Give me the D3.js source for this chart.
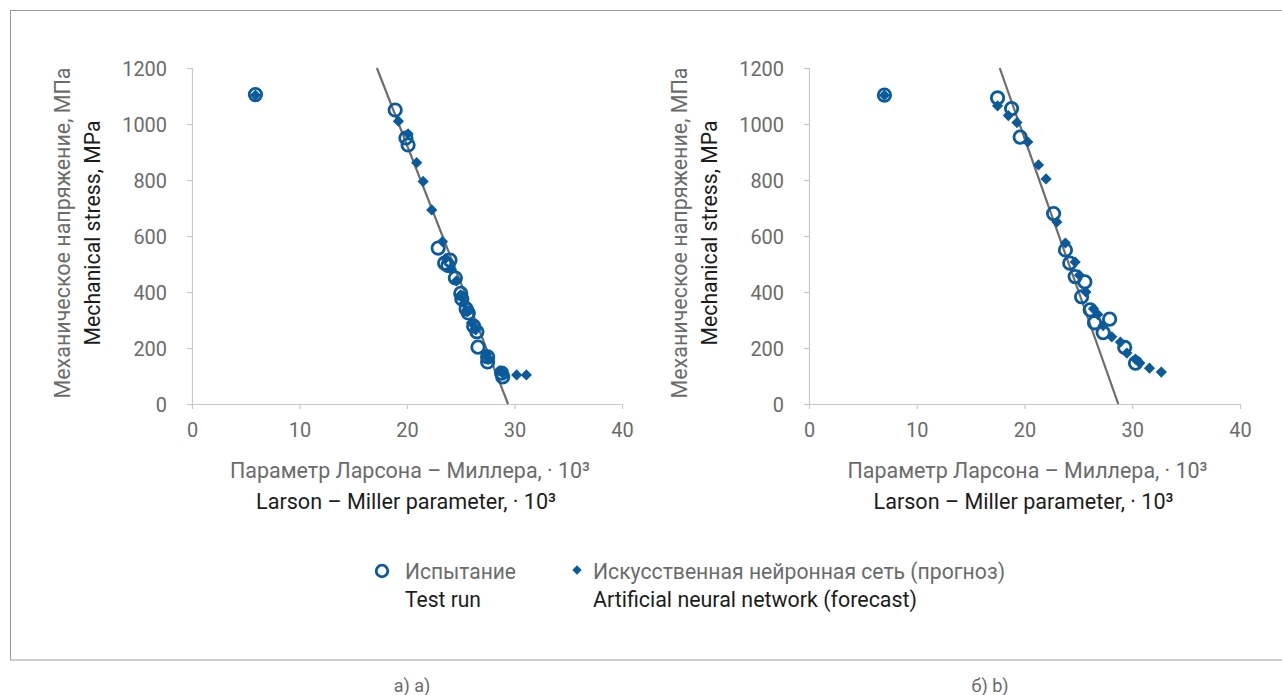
<!DOCTYPE html>
<html>
<head>
<meta charset="utf-8">
<script src="https://cdn.jsdelivr.net/npm/d3@7"></script>
<style>
  html, body { margin: 0; padding: 0; background: #ffffff; }
  svg { display: block; font-family: Roboto, "Noto Sans", sans-serif; }
</style>
</head>
<body>
<svg id="chart" width="1282" height="695"></svg>
<script>
// Axis ticks
const xTicks = [0, 10, 20, 30, 40];
const yTicks = [0, 200, 400, 600, 800, 1000, 1200];

// Panel a) — test results and ANN forecast
const aTestX = [5.9, 18.9, 19.9, 20.1, 22.9, 23.5, 24.0, 23.8, 24.5, 25.0, 25.1, 25.5, 25.7, 26.2, 26.5, 26.6, 27.5, 27.5, 28.8, 28.9];
const aTestY = [1105, 1050, 950, 925, 557, 503, 514, 495, 450, 395, 375, 340, 325, 278, 258, 203, 168, 150, 110, 97];
const aAnnX = [5.9, 19.2, 20.1, 20.9, 21.5, 22.3, 23.3, 23.6, 24.1, 24.6, 25.0, 25.3, 25.6, 26.0, 26.4, 27.4, 27.6, 28.6, 28.9, 30.2, 31.1];
const aAnnY = [1103, 1010, 965, 862, 795, 693, 580, 520, 480, 440, 390, 360, 330, 290, 265, 178, 160, 118, 110, 104, 104];
const aTrendX = [17.2, 29.4];
const aTrendY = [1200, 0];

// Panel b) — test results and ANN forecast
const bTestX = [7.0, 17.5, 18.8, 19.6, 22.7, 23.8, 24.2, 24.7, 25.6, 25.3, 26.1, 26.5, 27.9, 27.3, 29.3, 30.3];
const bTestY = [1103, 1093, 1055, 953, 680, 550, 503, 455, 436, 383, 336, 290, 303, 255, 202, 146];
const bAnnX = [7.0, 17.5, 18.5, 19.3, 20.3, 21.3, 22.0, 23.0, 23.8, 24.7, 25.1, 25.7, 26.4, 26.8, 27.3, 28.1, 28.9, 29.5, 30.3, 30.7, 31.6, 32.7];
const bAnnY = [1103, 1065, 1030, 1005, 936, 854, 804, 650, 575, 507, 460, 400, 340, 320, 280, 240, 221, 182, 160, 146, 128, 114];
const bTrendX = [17.7, 28.7];
const bTrendY = [1200, 0];

// Texts
const yTitleRu = "Механическое напряжение, МПа";
const yTitleEn = "Mechanical stress, MPa";
const xTitleRu = "Параметр Ларсона – Миллера, · 10³";
const xTitleEn = "Larson – Miller parameter, · 10³";
const legendTestRu = "Испытание";
const legendTestEn = "Test run";
const legendAnnRu = "Искусственная нейронная сеть (прогноз)";
const legendAnnEn = "Artificial neural network (forecast)";
const captions = ["а) a)", "б) b)"];

const BLUE = "#0a5a9c";
const GREY_TEXT = "#6b6b6b";
const DARK_TEXT = "#1c1c1c";
const AXIS = "#c9c9c9";
const TREND = "#6e6e6e";

const svg = d3.select("#chart");

// outer frame
svg.append("rect")
  .attr("x", 10.5).attr("y", 10.5)
  .attr("width", 1290).attr("height", 649.5)
  .attr("fill", "none").attr("stroke", "#9a9a9a").attr("stroke-width", 1);

function fitText(sel, len) {
  sel.attr("textLength", len).attr("lengthAdjust", "spacingAndGlyphs");
}

function drawPanel(opt) {
  const x = d3.scaleLinear().domain([0, 40]).range([opt.x0, opt.x1]);
  const y = d3.scaleLinear().domain([0, 1200]).range([404, 68]);
  const g = svg.append("g");

  // y axis
  const yAxis = g.append("g").attr("transform", `translate(${opt.x0},0)`)
    .call(d3.axisLeft(y).tickValues(yTicks).tickSize(5).tickPadding(20).tickFormat(d3.format("d")));
  yAxis.select(".domain").attr("stroke", AXIS).attr("stroke-width", 1.2);
  yAxis.selectAll(".tick line").attr("stroke", AXIS).attr("stroke-width", 1.2);
  yAxis.selectAll(".tick text").attr("fill", GREY_TEXT).attr("font-size", 21)
    .attr("font-family", "Roboto").attr("dy", "0.36em")
    .each(function () {
      const n = this.textContent.length;
      d3.select(this).attr("textLength", n * 11.2).attr("lengthAdjust", "spacingAndGlyphs");
    });

  // x axis
  const xAxis = g.append("g").attr("transform", `translate(0,404)`)
    .call(d3.axisBottom(x).tickValues(xTicks).tickSize(5).tickSizeOuter(0).tickPadding(13).tickFormat(d3.format("d")));
  xAxis.select(".domain").attr("stroke", AXIS).attr("stroke-width", 1.2);
  xAxis.selectAll(".tick line").attr("stroke", AXIS).attr("stroke-width", 1.2);
  xAxis.selectAll(".tick text").attr("fill", GREY_TEXT).attr("font-size", 21)
    .attr("font-family", "Roboto")
    .each(function () {
      const n = this.textContent.length;
      d3.select(this).attr("textLength", n * 11.2).attr("lengthAdjust", "spacingAndGlyphs");
    });

  // trend line
  const line = d3.line().x((d, i) => x(opt.trendX[i])).y((d, i) => y(opt.trendY[i]));
  g.append("path").datum(opt.trendX)
    .attr("d", line).attr("fill", "none")
    .attr("stroke", TREND).attr("stroke-width", 2.2);

  // ANN forecast (diamonds)
  const diamond = d3.symbol().type(d3.symbolDiamond2).size(80);
  g.append("g").selectAll("path")
    .data(opt.annX.map((v, i) => [v, opt.annY[i]]))
    .join("path")
    .attr("d", diamond)
    .attr("transform", d => `translate(${x(d[0])},${y(d[1])})`)
    .attr("fill", BLUE);

  // test results (open circles)
  g.append("g").selectAll("circle")
    .data(opt.testX.map((v, i) => [v, opt.testY[i]]))
    .join("circle")
    .attr("cx", d => x(d[0])).attr("cy", d => y(d[1]))
    .attr("r", 6.2)
    .attr("fill", "none").attr("stroke", BLUE).attr("stroke-width", 2.8);

  // y titles
  const ycx = opt.x0 - 130;
  g.append("text").text(yTitleRu)
    .attr("transform", `translate(${ycx},${233}) rotate(-90)`)
    .attr("text-anchor", "middle").attr("dy", "0.35em")
    .attr("fill", GREY_TEXT).attr("font-size", 22)
    .call(fitText, 331);
  g.append("text").text(yTitleEn)
    .attr("transform", `translate(${ycx + 30},${233}) rotate(-90)`)
    .attr("text-anchor", "middle").attr("dy", "0.35em")
    .attr("fill", DARK_TEXT).attr("font-size", 22)
    .call(fitText, 225);

  // x titles
  const xcx = (opt.x0 + opt.x1) / 2;
  g.append("text").text(xTitleRu)
    .attr("x", xcx + 3).attr("y", 478)
    .attr("text-anchor", "middle")
    .attr("fill", GREY_TEXT).attr("font-size", 22)
    .call(fitText, 360);
  g.append("text").text(xTitleEn)
    .attr("x", xcx - 1).attr("y", 509)
    .attr("text-anchor", "middle")
    .attr("fill", DARK_TEXT).attr("font-size", 22)
    .call(fitText, 300);

  // caption
  svg.append("text").text(opt.caption)
    .attr("x", opt.capX).attr("y", 692)
    .attr("text-anchor", "middle")
    .attr("fill", GREY_TEXT).attr("font-size", 18);
}

drawPanel({ x0: 192, x1: 622, testX: aTestX, testY: aTestY, annX: aAnnX, annY: aAnnY,
  trendX: aTrendX, trendY: aTrendY, caption: captions[0], capX: 412 });
drawPanel({ x0: 809, x1: 1240, testX: bTestX, testY: bTestY, annX: bAnnX, annY: bAnnY,
  trendX: bTrendX, trendY: bTrendY, caption: captions[1], capX: 990 });

// legend
const lg = svg.append("g");
lg.append("circle").attr("cx", 382).attr("cy", 571).attr("r", 5.8)
  .attr("fill", "none").attr("stroke", BLUE).attr("stroke-width", 2.8);
lg.append("text").text(legendTestRu).attr("x", 405).attr("y", 579)
  .attr("fill", GREY_TEXT).attr("font-size", 22).call(fitText, 111);
lg.append("text").text(legendTestEn).attr("x", 405).attr("y", 607)
  .attr("fill", DARK_TEXT).attr("font-size", 22).call(fitText, 76);
lg.append("path").attr("d", d3.symbol().type(d3.symbolDiamond2).size(55))
  .attr("transform", "translate(577,570)").attr("fill", BLUE);
lg.append("text").text(legendAnnRu).attr("x", 593).attr("y", 579)
  .attr("fill", GREY_TEXT).attr("font-size", 22).call(fitText, 412);
lg.append("text").text(legendAnnEn).attr("x", 593).attr("y", 607)
  .attr("fill", DARK_TEXT).attr("font-size", 22).call(fitText, 324);
</script>
</body>
</html>
